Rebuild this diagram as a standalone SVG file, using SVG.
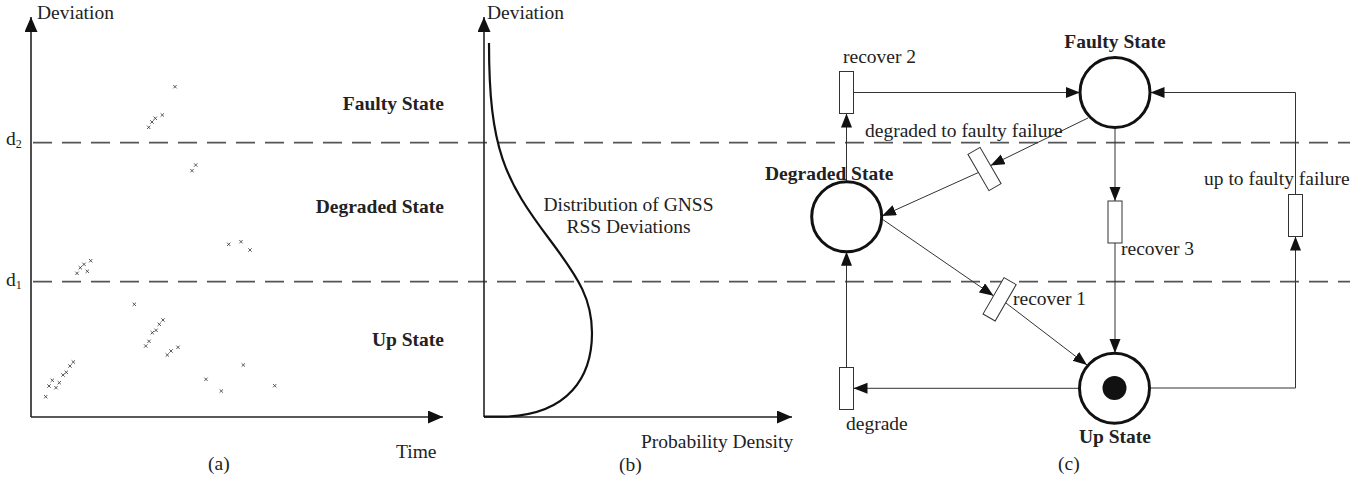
<svg xmlns="http://www.w3.org/2000/svg" width="1372" height="480" viewBox="0 0 1372 480">
<style>
text{font-family:"Liberation Serif","Times New Roman",serif;font-size:19.5px;fill:#222}
.b{font-weight:bold}
.axis{stroke:#222;stroke-width:1.6;fill:none}
.dash{stroke:#555;stroke-width:1.8;stroke-dasharray:19 10;fill:none}
.pt{stroke:#333;stroke-width:0.8;fill:none}
.conn{stroke:#333;stroke-width:1;fill:none}
.place{fill:#fff;stroke:#111;stroke-width:3}
.trans{fill:#fff;stroke:#333;stroke-width:1}
</style>
<defs>
<marker id="ax" markerUnits="userSpaceOnUse" markerWidth="16" markerHeight="14" refX="15" refY="6.5" orient="auto"><path d="M0,0 L15,6.5 L0,13 z" fill="#111"/></marker>
<marker id="ar" markerUnits="userSpaceOnUse" markerWidth="15" markerHeight="12" refX="14" refY="5.5" orient="auto"><path d="M0,0 L14,5.5 L0,11 z" fill="#111"/></marker>
<path id="x" d="M-1.7,-1.7 L1.7,1.7 M-1.7,1.7 L1.7,-1.7"/>
</defs>

<!-- thresholds -->
<g id="thresholds">
<line class="dash" x1="33" y1="142.7" x2="1350" y2="142.7"/>
<line class="dash" x1="33" y1="281.7" x2="1350" y2="281.7"/>
<text x="6" y="145">d<tspan font-size="12" dy="3">2</tspan></text>
<text x="6" y="286">d<tspan font-size="12" dy="3">1</tspan></text>
</g>

<!-- panel a -->
<g id="panel-a">
<line class="axis" x1="31" y1="417" x2="31" y2="17" marker-end="url(#ax)"/>
<line class="axis" x1="31" y1="417" x2="443" y2="417" marker-end="url(#ax)"/>
<text x="37" y="19">Deviation</text>
<text x="396" y="458">Time</text>
<text x="208" y="470">(a)</text>
<text class="b" x="444" y="110" text-anchor="end">Faulty State</text>
<text class="b" x="444" y="213" text-anchor="end">Degraded State</text>
<text class="b" x="444" y="346" text-anchor="end">Up State</text>
<g class="pt">
<use href="#x" x="175" y="86.7"/><use href="#x" x="162.3" y="115"/><use href="#x" x="155.3" y="118.3"/><use href="#x" x="152" y="122"/><use href="#x" x="148.7" y="127.3"/>
<use href="#x" x="195.7" y="165"/><use href="#x" x="192" y="170.7"/>
<use href="#x" x="228.7" y="244.3"/><use href="#x" x="241" y="241.7"/><use href="#x" x="250" y="250"/>
<use href="#x" x="90.7" y="260.7"/><use href="#x" x="84" y="264.3"/><use href="#x" x="80.3" y="267.7"/><use href="#x" x="77" y="273.3"/><use href="#x" x="87.3" y="271.3"/>
<use href="#x" x="134.3" y="304.3"/>
<use href="#x" x="163" y="320"/><use href="#x" x="159.3" y="324.3"/><use href="#x" x="156" y="330.3"/><use href="#x" x="152.3" y="332.7"/><use href="#x" x="149" y="341.3"/><use href="#x" x="145.7" y="346"/>
<use href="#x" x="178" y="347.3"/><use href="#x" x="171" y="351"/><use href="#x" x="167.3" y="355"/>
<use href="#x" x="243.3" y="365"/><use href="#x" x="206" y="379.3"/><use href="#x" x="221.3" y="391"/><use href="#x" x="274.7" y="385.7"/>
<use href="#x" x="73.3" y="362"/><use href="#x" x="70" y="366"/><use href="#x" x="66.3" y="372.3"/><use href="#x" x="63" y="375"/><use href="#x" x="59.3" y="382.7"/><use href="#x" x="52.3" y="380.3"/><use href="#x" x="49" y="386"/><use href="#x" x="56" y="387.7"/><use href="#x" x="45.7" y="396.7"/>
</g>
</g>

<!-- panel b -->
<g id="panel-b">
<line class="axis" x1="484" y1="417" x2="484" y2="17" marker-end="url(#ax)"/>
<line class="axis" x1="484" y1="417" x2="792" y2="417" marker-end="url(#ax)"/>
<path d="M489,43 C489,150 505,180 550,240 C580,280 592,300 592,333 C592,375 570,416.7 500,416.7 L484,416.7" fill="none" stroke="#111" stroke-width="2.2"/>
<text x="487" y="19">Deviation</text>
<text x="628.5" y="210.7" text-anchor="middle">Distribution of GNSS</text>
<text x="628.5" y="233.3" text-anchor="middle">RSS Deviations</text>
<text x="641" y="448">Probability Density</text>
<text x="619" y="471">(b)</text>
</g>

<!-- panel c connectors -->
<g id="connectors">
<line class="conn" x1="846.5" y1="181.7" x2="846.5" y2="113.5" marker-end="url(#ar)"/>
<line class="conn" x1="853.5" y1="92.5" x2="1080" y2="92.5" marker-end="url(#ar)"/>
<line class="conn" x1="1088" y1="118" x2="990.6" y2="165.5" marker-end="url(#ar)"/>
<line class="conn" x1="978.4" y1="172.5" x2="882" y2="216" marker-end="url(#ar)"/>
<line class="conn" x1="882" y1="219" x2="993.5" y2="295.8" marker-end="url(#ar)"/>
<line class="conn" x1="1005.7" y1="302.8" x2="1087" y2="365" marker-end="url(#ar)"/>
<line class="conn" x1="1115" y1="127.5" x2="1115" y2="201" marker-end="url(#ar)"/>
<line class="conn" x1="1115" y1="243" x2="1115" y2="353" marker-end="url(#ar)"/>
<line class="conn" x1="1079" y1="388.3" x2="853.5" y2="388.3" marker-end="url(#ar)"/>
<line class="conn" x1="846.5" y1="367.5" x2="846.5" y2="251.7" marker-end="url(#ar)"/>
<polyline class="conn" points="1150.5,388 1295.5,388 1295.5,236.5" marker-end="url(#ar)"/>
<polyline class="conn" points="1295.5,194.5 1295.5,92.5 1150.5,92.5" marker-end="url(#ar)"/>
</g>

<g id="faulty-state">
<circle class="place" cx="1115" cy="92.5" r="35"/>
<text class="b" x="1115" y="48" text-anchor="middle">Faulty State</text>
</g>
<g id="degraded-state">
<circle class="place" cx="846.7" cy="216.7" r="35"/>
<text class="b" x="765" y="180">Degraded State</text>
</g>
<g id="up-state">
<circle class="place" cx="1114.5" cy="388.3" r="35"/>
<circle cx="1114.5" cy="388" r="12" fill="#111"/>
<text class="b" x="1115" y="443" text-anchor="middle">Up State</text>
</g>
<g id="recover-2">
<rect class="trans" x="839.5" y="71.5" width="14" height="42"/>
<text x="843" y="63">recover 2</text>
</g>
<g id="degraded-to-faulty-failure">
<rect class="trans" x="-7" y="-21" width="14" height="42" transform="translate(984.5,169) rotate(-30)"/>
<text x="865" y="137">degraded to faulty failure</text>
</g>
<g id="recover-1">
<rect class="trans" x="-7" y="-21" width="14" height="42" transform="translate(999.6,299.3) rotate(30)"/>
<text x="1013" y="305">recover 1</text>
</g>
<g id="recover-3">
<rect class="trans" x="1108" y="201" width="14" height="42"/>
<text x="1121" y="255">recover 3</text>
</g>
<g id="up-to-faulty-failure">
<rect class="trans" x="1288.5" y="194.5" width="14" height="42"/>
<text x="1204" y="185">up to faulty failure</text>
</g>
<g id="degrade">
<rect class="trans" x="839.5" y="367.5" width="14" height="42"/>
<text x="846" y="430">degrade</text>
</g>
<text x="1058" y="470">(c)</text>
</svg>
